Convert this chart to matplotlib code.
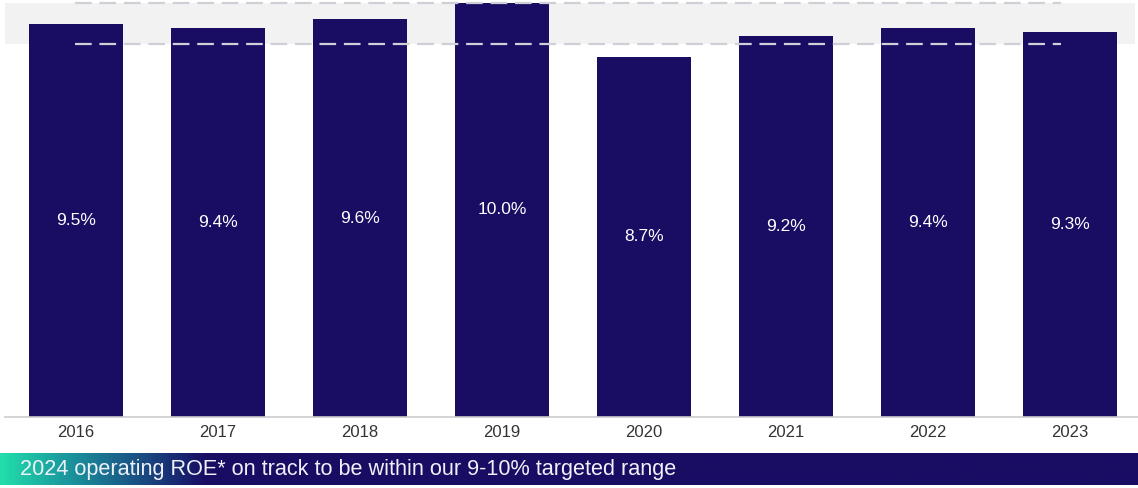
import matplotlib
matplotlib.use("Agg")
import matplotlib.pyplot as plt
import numpy as np
from matplotlib.colors import LinearSegmentedColormap

years = ["2016", "2017", "2018", "2019", "2020", "2021", "2022", "2023"]
roe = [9.5, 9.4, 9.6, 10.0, 8.7, 9.2, 9.4, 9.3]
target_low, target_high = 9.0, 10.0
banner_text = "2024 operating ROE* on track to be within our 9-10% targeted range"

plt.rcParams['font.family'] = ['Liberation Sans', 'DejaVu Sans']

W, H = 1138, 488
fig = plt.figure(figsize=(W / 100, H / 100), dpi=100)
ax = fig.add_axes([5 / W, 71 / H, 1136 / W, 1 - 71 / H])

navy = '#180c63'
x = np.arange(len(years))
ax.axhspan(target_low, target_high, xmin=0, xmax=0.995, color='#f2f2f2', zorder=0, lw=0)
bars = ax.bar(x, roe, width=0.66, color=navy, zorder=2)
for xi, v in zip(x, roe):
    ax.text(xi, v / 2, f"{v:.1f}%", ha='center', va='center', color='white',
            fontsize=12.5, zorder=4)
for yv in (target_low, target_high):
    ax.hlines(yv, -0.01, 6.94, colors='#cfcfd8', linestyles=(0, (7.5, 3.5)),
              linewidth=1.6, zorder=3)

ax.set_xlim(-0.5, 7.5)
ax.set_ylim(0, 10.07)
ax.set_xticks(x)
ax.set_xticklabels(years, fontsize=12, color='#333333')
ax.tick_params(axis='x', length=0, pad=6)
ax.set_yticks([])
for s in ('top', 'right', 'left'):
    ax.spines[s].set_visible(False)
ax.spines['bottom'].set_color('#cccccc')
ax.spines['bottom'].set_linewidth(1.2)

# banner
bax = fig.add_axes([0, 3 / H, 1, 32 / H])
cmap = LinearSegmentedColormap.from_list(
    'ban', [(0.0, '#22dcaa'), (0.05, '#1a9ea0'), (0.11, '#1a5a88'),
            (0.18, navy), (1.0, navy)])
grad = np.linspace(0, 1, 600).reshape(1, -1)
bax.imshow(grad, aspect='auto', cmap=cmap, extent=[0, 1, 0, 1])
bax.set_xlim(0, 1)
bax.set_ylim(0, 1)
bax.axis('off')
bax.text(20 / W, 0.47, banner_text, ha='left', va='center', color='#eef2f8',
         fontsize=15.6)

fig.savefig('out.png', dpi=100)
